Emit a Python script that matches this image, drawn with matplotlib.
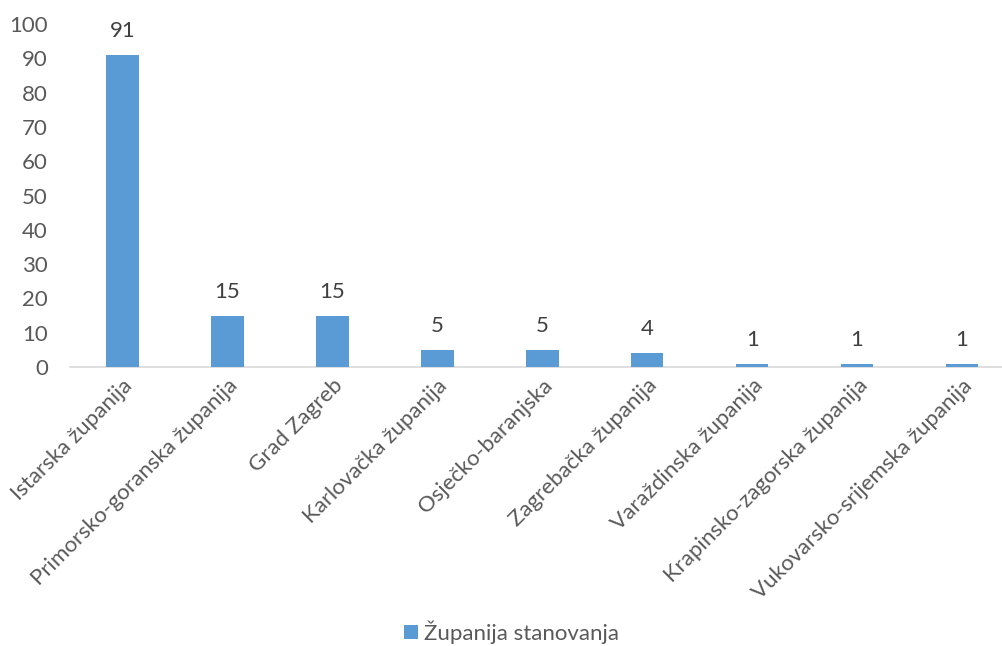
import matplotlib.pyplot as plt

# --- podaci ---
zupanije = [
    "Istarska županija", "Primorsko-goranska županija", "Grad Zagreb",
    "Karlovačka županija", "Osječko-baranjska", "Zagrebačka županija",
    "Varaždinska županija", "Krapinsko-zagorska županija",
    "Vukovarsko-srijemska županija",
]
broj = [91, 15, 15, 5, 5, 4, 1, 1, 1]
serija = "Županija stanovanja"
y_ticks = list(range(0, 101, 10))

plt.rcParams['font.family'] = ['Lato', 'DejaVu Sans']

fig = plt.figure(figsize=(10.03, 6.46), dpi=100)
ax = fig.add_axes([70 / 1003, 1 - 367 / 646, 933 / 1003, 343 / 646])

x = list(range(len(zupanije)))
bars = ax.bar(x, broj, width=0.31, color='#5B9BD5', label=serija, zorder=2)

for b, v in zip(bars, broj):
    ax.annotate(str(v), (b.get_x() + b.get_width() / 2, v), xytext=(0, 10),
                textcoords='offset points', ha='center', va='bottom',
                fontsize=16, color='#404040')

ax.set_xlim(-0.5, 8.39)
ax.set_ylim(0, 100)
ax.set_yticks(y_ticks)
ax.tick_params(axis='y', length=0, labelsize=16, labelcolor='#595959', pad=16)
ax.tick_params(axis='x', length=0, labelsize=16, labelcolor='#595959', pad=6)
ax.set_xticks(x)
ax.set_xticklabels(zupanije, rotation=45, ha='right', va='top', rotation_mode='anchor')

for s in ['top', 'right', 'left']:
    ax.spines[s].set_visible(False)
ax.spines['bottom'].set_color('#D9D9D9')
ax.spines['bottom'].set_linewidth(1.2)
ax.spines['bottom'].set_zorder(1)

fig.legend(handles=[bars], labels=[serija], loc='center', bbox_to_anchor=(512 / 1003, 1 - 632 / 646),
           frameon=False, fontsize=16, labelcolor='#595959', handlelength=0.6, handleheight=0.6,
           handletextpad=0.3)

fig.savefig('out.png', dpi=100)
